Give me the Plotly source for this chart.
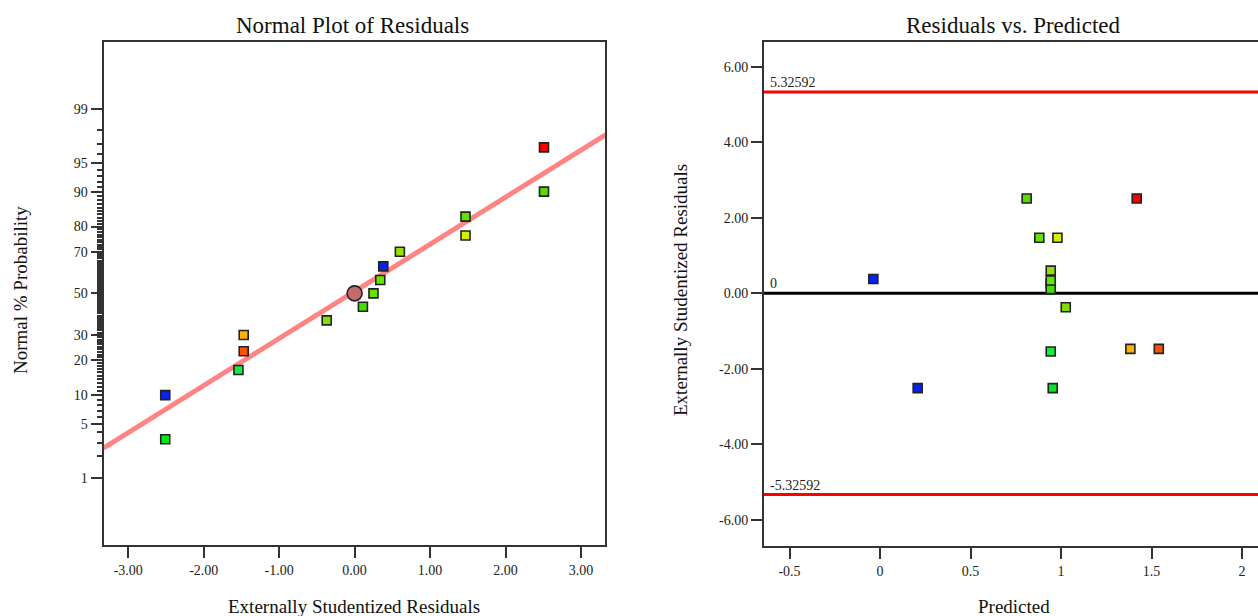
import plotly.graph_objects as go
from statistics import NormalDist

W, H = 1258, 616

# ---------------- data ----------------
residuals = [-2.51, -2.51, -1.54, -1.47, -1.47, -0.37, 0.11, 0.25, 0.34, 0.38, 0.60, 1.47, 1.47, 2.51, 2.51]
normal_prob = [3.3, 10.0, 16.7, 23.3, 30.0, 36.7, 43.3, 50.0, 56.7, 63.3, 70.0, 76.7, 83.3, 90.0, 96.7]
predicted = [0.954, 0.208, 0.943, 1.54, 1.383, 1.026, 0.943, 0.943, 0.943, -0.037, 0.943, 0.98, 0.88, 0.81, 1.418]
point_colors = ["#00E820", "#0A22F0", "#10EC40", "#FF5000", "#FFB000", "#88DD00", "#44E000",
                "#66E000", "#60E800", "#0A22F0", "#99E000", "#D4F000", "#66E000", "#55DD00", "#FF0000"]

center_resid = [0.0]
center_prob = [50.0]

fit_resid = [-3.33, 3.33]
fit_z = [-1.95, 2.00]

limit = 5.32592

prob_ticks = [1, 5, 10, 20, 30, 50, 70, 80, 90, 95, 99]
resid_ticks = [-3, -2, -1, 0, 1, 2, 3]
pred_ticks = [-0.5, 0, 0.5, 1, 1.5, 2]
pred_tick_text = ["-0.5", "0", "0.5", "1", "1.5", "2"]
res_ticks2 = [-6, -4, -2, 0, 2, 4, 6]

# --------------------------------------
nd = NormalDist()
def z(p):
    return nd.inv_cdf(p / 100.0)

def px(x):
    return x / W
def py(y):
    return 1 - y / H

FONT = "Liberation Serif"
order = list(range(len(residuals)))
# hidden point (0.25) first on right plot so others cover it
order_right = [7] + [i for i in order if i != 7]

fig = go.Figure()

# left: fit line
fig.add_trace(go.Scatter(x=fit_resid, y=fit_z, mode="lines",
                         line=dict(color="#FF8585", width=5), xaxis="x", yaxis="y",
                         hoverinfo="skip", showlegend=False))
# left points
fig.add_trace(go.Scatter(x=residuals, y=[z(p) for p in normal_prob], mode="markers",
                         marker=dict(symbol="square", size=9, color=point_colors,
                                     line=dict(color="#222222", width=1.6)),
                         xaxis="x", yaxis="y", showlegend=False))
fig.add_trace(go.Scatter(x=center_resid, y=[z(p) for p in center_prob], mode="markers",
                         marker=dict(symbol="circle", size=15, color="#C46A6A",
                                     line=dict(color="#222222", width=1.6)),
                         xaxis="x", yaxis="y", showlegend=False))

# right points
fig.add_trace(go.Scatter(x=[predicted[i] for i in order_right], y=[residuals[i] for i in order_right],
                         mode="markers",
                         marker=dict(symbol="square", size=9, color=[point_colors[i] for i in order_right],
                                     line=dict(color="#222222", width=1.6)),
                         xaxis="x2", yaxis="y2", showlegend=False))

minor_probs = [p for p in range(2, 99) if p not in prob_ticks]

ax_common = dict(showgrid=False, zeroline=False, showline=True, linecolor="#333333", linewidth=2,
                 ticks="outside", ticklen=11, tickwidth=2, tickcolor="#333333",
                 tickfont=dict(family=FONT, size=14, color="#222222"), automargin=False)

fig.update_layout(
    width=W, height=H, margin=dict(l=0, r=0, t=0, b=0),
    paper_bgcolor="white", plot_bgcolor="white",
    xaxis=dict(domain=[px(103.6), px(605.4)], range=[-3.327, 3.324], anchor="y",
               tickvals=resid_ticks, ticktext=[f"{v:.2f}" for v in resid_ticks],
               mirror=True, **ax_common),
    yaxis=dict(domain=[py(545), py(41.7)], range=[-3.17, 3.17], anchor="x",
               tickvals=[z(p) for p in prob_ticks], ticktext=[str(p) for p in prob_ticks],
               mirror=True,
               minor=dict(tickmode="array", tickvals=[z(p) for p in minor_probs],
                          ticklen=5, tickwidth=1.5, tickcolor="#333333", ticks="outside"),
               **ax_common),
    xaxis2=dict(domain=[px(764), 1.0], range=[-0.641, 2.088], anchor="y2",
                tickvals=pred_ticks, ticktext=pred_tick_text, mirror=True, **ax_common),
    yaxis2=dict(domain=[py(545.7), py(41.7)], range=[-6.68, 6.66], anchor="x2",
                tickvals=res_ticks2, ticktext=[f"{v:.2f}" for v in res_ticks2],
                mirror=False, **ax_common),
)

# reference lines on right plot
for yv, col in [(limit, "#FF0000"), (-limit, "#FF0000"), (0, "#000000")]:
    fig.add_shape(type="line", xref="x2 domain", yref="y2", x0=0, x1=1, y0=yv, y1=yv,
                  line=dict(color=col, width=3), layer="below")

ann_font = dict(family=FONT, size=14, color="#222222")
for txt, yv in [(f"{limit:.5f}", limit), (f"{-limit:.5f}", -limit), ("0", 0)]:
    fig.add_annotation(xref="x2 domain", yref="y2", x=0.008, y=yv, text=txt, showarrow=False,
                       xanchor="left", yanchor="bottom", yshift=0, font=ann_font)

title_font = dict(family=FONT, size=23, color="#111111")
axis_font = dict(family=FONT, size=19, color="#111111")
fig.add_annotation(xref="paper", yref="paper", x=px(352), y=py(25), text="Normal Plot of Residuals",
                   showarrow=False, xanchor="center", yanchor="middle", font=title_font)
fig.add_annotation(xref="paper", yref="paper", x=px(1013), y=py(25), text="Residuals vs. Predicted",
                   showarrow=False, xanchor="center", yanchor="middle", font=title_font)
fig.add_annotation(xref="paper", yref="paper", x=px(354), y=py(606), text="Externally Studentized Residuals",
                   showarrow=False, xanchor="center", yanchor="middle", font=axis_font)
fig.add_annotation(xref="paper", yref="paper", x=px(1014), y=py(606), text="Predicted",
                   showarrow=False, xanchor="center", yanchor="middle", font=axis_font)
fig.add_annotation(xref="paper", yref="paper", x=px(20), y=py(290), text="Normal % Probability",
                   showarrow=False, xanchor="center", yanchor="middle", textangle=-90, font=axis_font)
fig.add_annotation(xref="paper", yref="paper", x=px(680), y=py(290), text="Externally Studentized Residuals",
                   showarrow=False, xanchor="center", yanchor="middle", textangle=-90, font=axis_font)

fig.write_html("out.html")
